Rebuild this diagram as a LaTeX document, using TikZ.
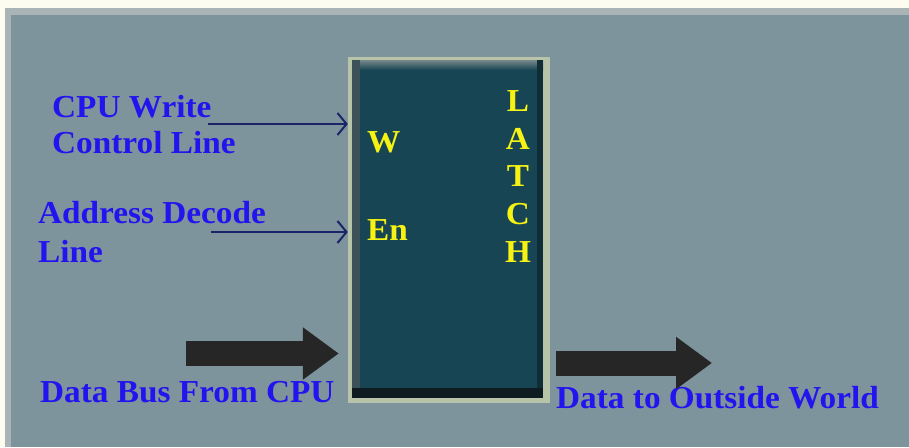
\documentclass[tikz,border=0pt]{standalone}
\usepackage{fontspec}
\setmainfont[FakeStretch=1.04]{Liberation Serif}
\usetikzlibrary{arrows.meta}
\definecolor{cream}{RGB}{252,252,240}
\definecolor{rimgray}{RGB}{170,180,182}
\definecolor{panel}{RGB}{126,148,156}
\definecolor{sage}{RGB}{184,196,168}
\definecolor{teal}{RGB}{23,69,83}
\definecolor{tealtop}{RGB}{120,136,138}
\definecolor{tealleft}{RGB}{60,82,88}
\definecolor{tealbot}{RGB}{14,28,33}
\definecolor{tealright}{RGB}{16,46,56}
\definecolor{lbl}{RGB}{34,20,238}
\definecolor{yel}{RGB}{245,242,20}
\definecolor{navy}{RGB}{27,36,104}
\definecolor{bigarrow}{RGB}{38,38,38}
\tikzset{
  lbltext/.style={anchor=base west, inner sep=0pt, text=lbl, font=\fontsize{32}{36}\selectfont\bfseries},
  yeltext/.style={inner sep=0pt, text=yel, font=\fontsize{32}{36}\selectfont\bfseries},
  thinarrow/.style={draw=navy, line width=2pt, -{Straight Barb[length=9pt,width=22pt,line width=2pt]}},
  fatarrow/.style={draw=bigarrow, line width=25pt, line cap=butt, -{Triangle[length=36pt,width=50pt]}},
}
\begin{document}
\begin{tikzpicture}[x=1pt,y=-1pt]
\useasboundingbox (0,0) rectangle (909,447);
% background
\fill[cream] (0,0) rectangle (909,447);
\fill[rimgray] (5,8) rectangle (909,447);
\fill[panel] (11,15) rectangle (909,447);
% latch box
\fill[sage] (348,57) rectangle (550,403);
\fill[teal] (352,60) rectangle (543,398);
\shade[top color=tealtop, bottom color=teal] (352,60) rectangle (543,70);
\fill[tealleft] (352,60) rectangle (360,398);
\fill[tealright] (537,60) rectangle (543,398);
\fill[tealbot] (352,388) rectangle (543,398);
\node[minimum width=202pt, minimum height=346pt, inner sep=0pt] (latch) at (449,230) {};
% labels inside box
\node[yeltext, anchor=base west] (w) at (367,152) {W};
\node[yeltext, anchor=base west] (en) at (367,240) {En};
\node[yeltext, anchor=base] (l1) at (518,111) {L};
\node[yeltext, anchor=base] (l2) at (518,149) {A};
\node[yeltext, anchor=base] (l3) at (518,186) {T};
\node[yeltext, anchor=base] (l4) at (518,224) {C};
\node[yeltext, anchor=base] (l5) at (518,262) {H};
% left labels
\node[lbltext] (cpu1) at (52,117) {CPU Write};
\node[lbltext] (cpu2) at (52,153) {Control Line};
\node[lbltext] (adr1) at (38,223) {Address Decode};
\node[lbltext] (adr2) at (38,262) {Line};
\node[lbltext] (dbus) at (40,402) {Data Bus From CPU};
\node[lbltext] (dout) at (556,408) {Data to Outside World};
% thin arrows
\coordinate (ws) at (208,124);
\coordinate (es) at (211,232);
\draw[thinarrow] (ws) -- (ws -| latch.west);
\draw[thinarrow] (es) -- (es -| latch.west);
% fat arrows
\coordinate (dins) at (186,353.5);
\coordinate (dine) at ([xshift=-9pt]dins -| latch.west);
\draw[fatarrow] (dins) -- (dine);
\coordinate (douts) at ([xshift=6pt]latch.east |- 0,363);
\coordinate (doute) at (712,363);
\draw[fatarrow] (douts) -- (doute);
\end{tikzpicture}
\end{document}
